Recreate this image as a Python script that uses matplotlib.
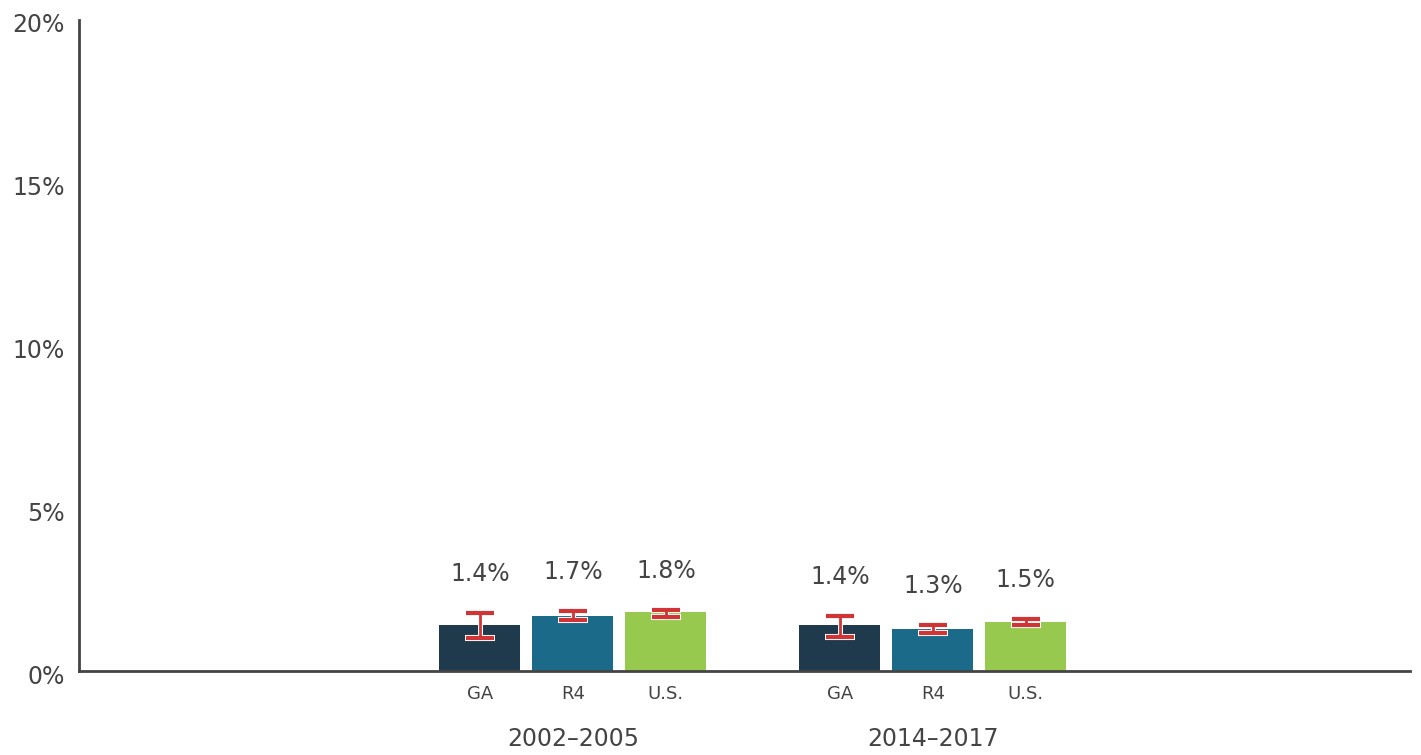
import matplotlib
matplotlib.use("Agg")
import matplotlib.pyplot as plt
import matplotlib.transforms as mtransforms
import numpy as np

periods = ["2002\u20132005", "2014\u20132017"]
regions = ["GA", "R4", "U.S."]
values = {
    "GA": [1.4, 1.4],
    "R4": [1.7, 1.3],
    "U.S.": [1.8, 1.5],
}
ci_low = {
    "GA": [1.01, 1.04],
    "R4": [1.56, 1.17],
    "U.S.": [1.66, 1.41],
}
ci_high = {
    "GA": [1.78, 1.69],
    "R4": [1.84, 1.41],
    "U.S.": [1.87, 1.60],
}
yticks = [0, 5, 10, 15, 20]
ytick_labels = ["0%", "5%", "10%", "15%", "20%"]

colors = {"GA": "#1e3a4c", "R4": "#1b6a8a", "U.S.": "#97c94e"}
err_color = "#d03434"
text_color = "#444444"

fig = plt.figure(figsize=(14.21, 7.55), dpi=100)
ax = fig.add_axes([79 / 1421, 84 / 755, (1410 - 79) / 1421, (671 - 20) / 755])

group_centers = np.array([0.0, 3.87])
offsets = [-1.0, 0.0, 1.0]
bar_w = 0.87
cap_half = 0.15
cap_half_o = 0.162

for r, off in zip(regions, offsets):
    xs = group_centers + off
    ax.bar(xs, values[r], width=bar_w, color=colors[r], zorder=2)
    lo = np.array(ci_low[r])
    hi = np.array(ci_high[r])
    # white outlines first
    ax.vlines(xs, lo, hi, color="white", linewidth=3.6, zorder=3)
    ax.hlines(lo, xs - cap_half_o, xs + cap_half_o, color="white",
              linewidth=4.4, zorder=3)
    ax.hlines(hi, xs - cap_half_o, xs + cap_half_o, color="white",
              linewidth=4.4, zorder=3)
    # red marks on top
    ax.vlines(xs, lo, hi, color=err_color, linewidth=2.0, zorder=4)
    ax.hlines(lo, xs - cap_half, xs + cap_half, color=err_color,
              linewidth=3.0, zorder=4)
    ax.hlines(hi, xs - cap_half, xs + cap_half, color=err_color,
              linewidth=3.0, zorder=4)
    for i, x in enumerate(xs):
        ax.annotate(f"{values[r][i]:.1f}%", (x, hi[i]), xytext=(0, 28),
                    textcoords="offset points", ha="center", va="center",
                    fontsize=17, color=text_color)
        ax.text(x, -0.7, r, ha="center", va="center", fontsize=13,
                color=text_color)

for gc, p in zip(group_centers, periods):
    ax.text(gc, -2.1, p, ha="center", va="center", fontsize=17,
            color=text_color)

ax.set_xlim(-5.31, 9.0)
ax.set_ylim(0, 20)
ax.set_yticks(yticks)
ax.set_yticklabels(ytick_labels, fontsize=17, color=text_color)
ax.tick_params(axis="y", length=0, pad=10)
shift = mtransforms.ScaledTranslation(0, -3 / 100, fig.dpi_scale_trans)
for lbl in ax.get_yticklabels():
    lbl.set_transform(lbl.get_transform() + shift)
ax.set_xticks([])
for s in ["top", "right"]:
    ax.spines[s].set_visible(False)
for s in ["left", "bottom"]:
    ax.spines[s].set_color("#444444")
    ax.spines[s].set_linewidth(2)
ax.spines["bottom"].set_zorder(5)

fig.savefig("out.png", dpi=100)
